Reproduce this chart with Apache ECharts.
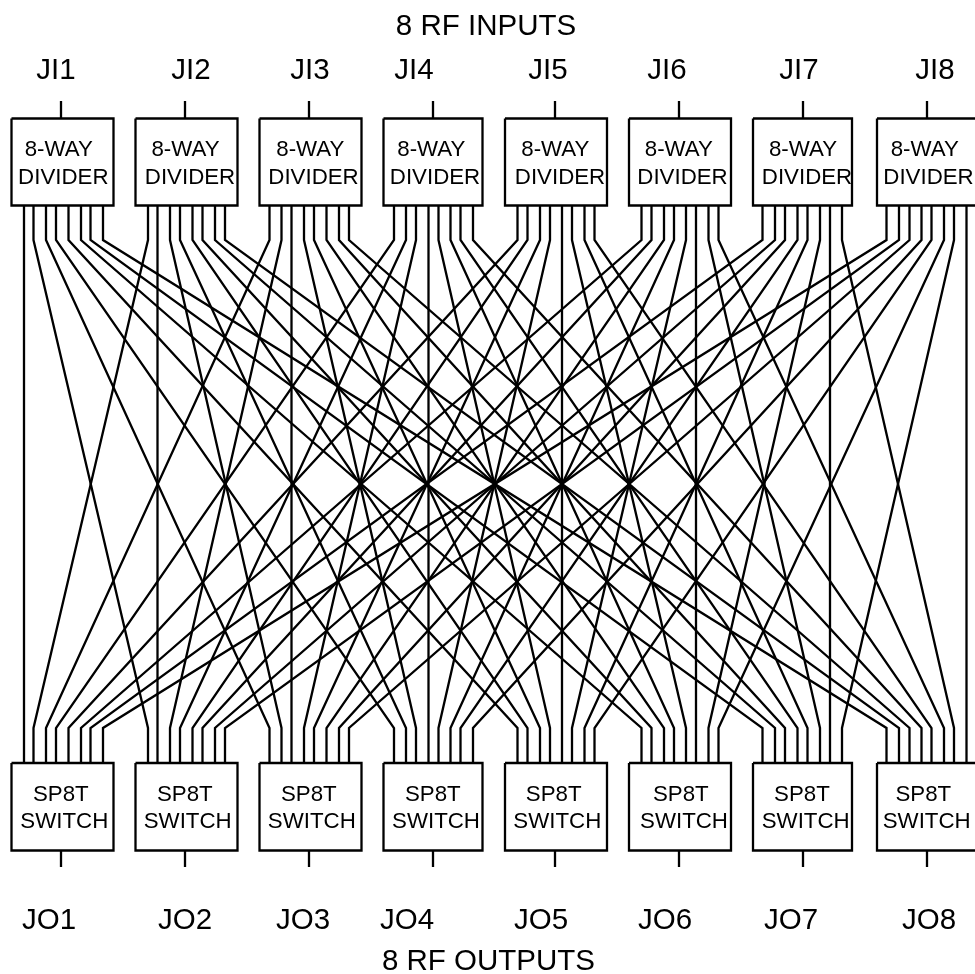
<!DOCTYPE html>
<html>
<head>
<meta charset="utf-8">
<style>html,body{margin:0;padding:0;background:#fff;overflow:hidden}#c{width:975px;height:974px}</style>
<script src="https://cdn.jsdelivr.net/npm/echarts@6/dist/echarts.min.js"></script>
</head>
<body>
<div id="c"></div>
<script>
// Diagram text
const chartTitleTop = '8 RF INPUTS';
const chartTitleBottom = '8 RF OUTPUTS';
const inputLabels = ['JI1','JI2','JI3','JI4','JI5','JI6','JI7','JI8'];
const outputLabels = ['JO1','JO2','JO3','JO4','JO5','JO6','JO7','JO8'];
const dividerLines = ['8-WAY','DIVIDER'];
const switchLines = ['SP8T','SWITCH'];

// Diagram geometry (the x and y scale are 0-975 / 0-974)
const boxLeft  = [11.5,135.5,259.5,383.5,505,629,753,877];
const boxRight = [113.5,237.5,361.5,482.5,607,731,852,979];
const stubX    = [61,185,309,433,555,679,803,927];
const pinX = [
  [24,33.5,46,56,68.5,81,90.5,103],
  [148,157.5,170,180,192.5,202.5,215,225],
  [269.5,281.5,291.5,304,314,326.5,339,349],
  [394,406,416,428.5,438.5,450.5,460.5,473],
  [517.5,527.5,540,550,562,572,584.5,594.5],
  [641.5,651.5,664,674,686,696,708.5,718.5],
  [762.5,775,785,797.5,807.5,820,830,842],
  [886.5,899,909.5,921.5,931.5,944,954,966.5]
];
const topBox = [118.5,205.5];
const bottomBox = [763,850.5];
const wireBendY = [240,728];
const stubEnds = [101,867];
const inputLabelX  = [56,191,310,414,548,667,799,935];
const outputLabelX = [49,185,303,407,541,665,791,929];
const dividerTextX = [[58.7,63.3],[185.5,190],[310.3,313.5],[431.3,435],[555.3,560],[678.8,682.5],[803,807],[924.7,928.5]];
const switchTextX  = [[60.8,64.3],[184.8,187.7],[308.8,311.8],[432.8,436],[553.7,557.3],[680.8,684],[802,805.7],[923.3,926.7]];

const black = '#000';
const lineOf = pts => ({
  type:'line', data:pts, showSymbol:false, symbol:'none', silent:true, clip:false,
  lineStyle:{color:black,width:2.3,join:'miter',cap:'butt'}, z:2
});

const series = [];
// 64 wires: divider i output j goes to switch j input i
for (let i=0;i<8;i++) for (let j=0;j<8;j++) {
  series.push(lineOf([
    [pinX[i][j],topBox[1]],
    [pinX[i][j],wireBendY[0]],
    [pinX[j][i],wireBendY[1]],
    [pinX[j][i],bottomBox[0]]
  ]));
}
// boxes and stubs
for (let i=0;i<8;i++) {
  [topBox,bottomBox].forEach(b=>{
    series.push(lineOf([[boxLeft[i],b[0]],[boxRight[i],b[0]],[boxRight[i],b[1]],[boxLeft[i],b[1]],[boxLeft[i],b[0]]]));
  });
  series.push(lineOf([[stubX[i],stubEnds[0]],[stubX[i],topBox[0]]]));
  series.push(lineOf([[stubX[i],bottomBox[1]],[stubX[i],stubEnds[1]]]));
}
// text
const texts = [];
texts.push([486,26.5,chartTitleTop,29.5]);
texts.push([488.5,962,chartTitleBottom,29.5]);
inputLabels.forEach((t,i)=>texts.push([inputLabelX[i],70.5,t,29.5]));
outputLabels.forEach((t,i)=>texts.push([outputLabelX[i],920.5,t,29.5]));
for (let i=0;i<8;i++) {
  texts.push([dividerTextX[i][0],150,dividerLines[0],22.3]);
  texts.push([dividerTextX[i][1],177.5,dividerLines[1],22.3]);
  texts.push([switchTextX[i][0],795,switchLines[0],22.3]);
  texts.push([switchTextX[i][1],822,switchLines[1],22.3]);
}
series.push({
  type:'custom', data:texts, silent:true, clip:false, z:5,
  encode:{x:0,y:1},
  renderItem:(p,api)=>{
    const c = api.coord([api.value(0),api.value(1)]);
    const d = texts[p.dataIndex];
    return {type:'text',style:{x:c[0],y:c[1],text:d[2],fill:black,
      font:d[3]+'px "Liberation Sans", Arial, sans-serif',align:'center',verticalAlign:'middle'}};
  }
});

const chart = echarts.init(document.getElementById('c'),null,{renderer:'canvas'});
chart.setOption({
  animation:false,
  backgroundColor:'#fff',
  grid:{left:0,right:0,top:0,bottom:0},
  xAxis:{type:'value',min:0,max:975,show:false},
  yAxis:{type:'value',min:0,max:974,inverse:true,show:false},
  tooltip:{show:false},
  series
});
</script>
</body>
</html>
